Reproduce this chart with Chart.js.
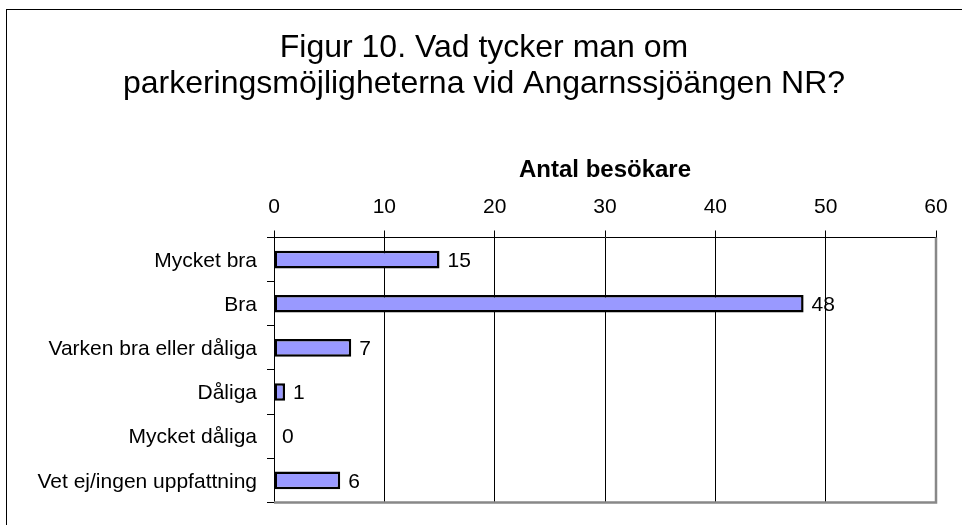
<!DOCTYPE html>
<html>
<head>
<meta charset="utf-8">
<script src="https://cdn.jsdelivr.net/npm/chart.js@4/dist/chart.umd.min.js"></script>
<style>
  html, body { margin: 0; padding: 0; background: #fff; }
  canvas { display: block; }
</style>
</head>
<body>
<canvas id="c" width="962" height="525"></canvas>
<script>
const titleLines = ["Figur 10. Vad tycker man om", "parkeringsmöjligheterna vid Angarnssjöängen NR?"];
const axisTitle = "Antal besökare";
const categories = ["Mycket bra", "Bra", "Varken bra eller dåliga", "Dåliga", "Mycket dåliga", "Vet ej/ingen uppfattning"];
const values = [15, 48, 7, 1, 0, 6];
const xMin = 0, xMax = 60, xStep = 10;

const FONT = "'Liberation Sans', Arial, Helvetica, sans-serif";

const framePlugin = {
  id: 'frame',
  beforeDraw(chart) {
    const ctx = chart.ctx;
    ctx.save();
    ctx.fillStyle = '#ffffff';
    ctx.fillRect(0, 0, chart.width, chart.height);
    ctx.strokeStyle = '#000000';
    ctx.lineWidth = 1;
    ctx.strokeRect(6.5, 9.5, 2000, 2000);
    ctx.restore();
  },
  afterDatasetsDraw(chart) {
    const ctx = chart.ctx;
    const a = chart.chartArea;
    ctx.save();
    ctx.strokeStyle = '#888888';
    ctx.lineWidth = 2.5;
    ctx.beginPath();
    ctx.moveTo(a.right, a.top);
    ctx.lineTo(a.right, a.bottom);
    ctx.lineTo(a.left, a.bottom);
    ctx.stroke();
    // data labels
    ctx.fillStyle = '#000000';
    ctx.font = '21px ' + FONT;
    ctx.textAlign = 'left';
    ctx.textBaseline = 'middle';
    const meta = chart.getDatasetMeta(0);
    meta.data.forEach((el, i) => {
      ctx.fillText(String(values[i]), el.x + 8, el.y + 1.5);
    });
    ctx.restore();
  }
};

new Chart(document.getElementById('c'), {
  type: 'bar',
  data: {
    labels: categories,
    datasets: [{
      data: values,
      backgroundColor: '#9999ff',
      borderColor: '#000000',
      borderWidth: 2.5,
      borderSkipped: false,
      categoryPercentage: 1,
      barPercentage: 0.4
    }]
  },
  options: {
    indexAxis: 'y',
    responsive: false,
    animation: false,
    devicePixelRatio: 1,
    layout: { padding: { top: 0, left: 32, right: 26, bottom: 16 } },
    plugins: {
      legend: { display: false },
      tooltip: { enabled: false },
      title: {
        display: true,
        text: titleLines,
        color: '#000000',
        font: { family: FONT, size: 32, weight: 'normal', lineHeight: 36 / 32 },
        padding: { top: 30.5, bottom: 0 }
      }
    },
    scales: {
      x: {
        position: 'top',
        min: xMin,
        max: xMax,
        afterFit(scale) { scale.height = 135; },
        ticks: {
          stepSize: xStep,
          color: '#000000',
          padding: 10.5,
          font: { family: FONT, size: 21, lineHeight: 1.2 },
          maxRotation: 0
        },
        grid: {
          color: '#000000',
          lineWidth: 1,
          tickLength: 7,
          drawTicks: true
        },
        border: { display: true, color: '#000000', width: 1 },
        title: {
          display: true,
          text: axisTitle,
          color: '#000000',
          font: { family: FONT, size: 24, weight: 'bold', lineHeight: 1.2 },
          padding: { top: 53.3, bottom: 0 }
        }
      },
      y: {
        afterFit(scale) { scale.width = 242; },
        ticks: {
          color: '#000000',
          padding: 10,
          autoSkip: false,
          labelOffset: 1.5,
          font: { family: FONT, size: 21, lineHeight: 1.2 }
        },
        grid: {
          drawOnChartArea: false,
          drawTicks: true,
          tickLength: 7,
          color: '#000000',
          offset: true
        },
        border: { display: true, color: '#000000', width: 1 }
      }
    }
  },
  plugins: [framePlugin]
});
</script>
</body>
</html>
